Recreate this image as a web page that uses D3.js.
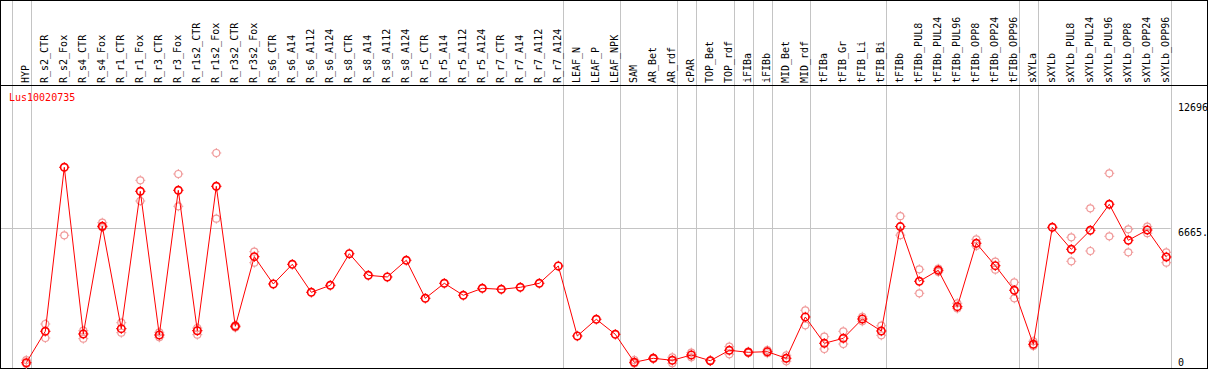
<!DOCTYPE html>
<html>
<head>
<meta charset="utf-8">
<script src="https://cdn.jsdelivr.net/npm/d3@7"></script>
<style>
  body { margin: 0; background: #fff; }
  svg text { font-family: "DejaVu Sans Mono", monospace; font-size: 10px; }
</style>
</head>
<body>
<svg id="chart" width="1209" height="370"></svg>
<script>
// sample columns, left to right
const columns = ["HYP", "R_s2_CTR", "R_s2_Fox", "R_s4_CTR", "R_s4_Fox", "R_r1_CTR", "R_r1_Fox",
  "R_r3_CTR", "R_r3_Fox", "R_r1s2_CTR", "R_r1s2_Fox", "R_r3s2_CTR", "R_r3s2_Fox", "R_s6_CTR",
  "R_s6_A14", "R_s6_A112", "R_s6_A124", "R_s8_CTR", "R_s8_A14", "R_s8_A112", "R_s8_A124",
  "R_r5_CTR", "R_r5_A14", "R_r5_A112", "R_r5_A124", "R_r7_CTR", "R_r7_A14", "R_r7_A112",
  "R_r7_A124", "LEAF_N", "LEAF_P", "LEAF_NPK", "SAM", "AR_Bet", "AR_rdf", "cPAR", "TOP_Bet",
  "TOP_rdf", "iFIBa", "iFIBb", "MID_Bet", "MID_rdf", "tFIBa", "tFIB_Gr", "tFIB_Li", "tFIB_Bi",
  "tFIBb", "tFIBb_PUL8", "tFIBb_PUL24", "tFIBb_PUL96", "tFIBb_OPP8", "tFIBb_OPP24", "tFIBb_OPP96",
  "sXYLa", "sXYLb", "sXYLb_PUL8", "sXYLb_PUL24", "sXYLb_PUL96", "sXYLb_OPP8", "sXYLb_OPP24",
  "sXYLb_OPP96"];

// mean expression per column (the red line)
const means = [183, 1698, 9609, 1568, 6763, 1824, 8452, 1519, 8500, 1727, 8693, 1939, 5297, 3980,
  4930, 3579, 3917, 5441, 4399, 4318, 5123, 3290, 4014, 3435, 3772, 3724, 3821, 4014, 4849,
  1471, 2277, 1553, 203, 396, 299, 555, 280, 781, 685, 714, 396, 2388, 1119, 1360, 2291, 1713,
  6750, 4110, 4641, 2885, 5943, 4863, 3676, 1071, 6715, 5654, 6570, 7825, 6088, 6585, 5282];

// replicate values per column (pink circles)
const replicates = [
  [310, 120], [2050, 1375], [6329], [1727, 1341], [6937, 6715], [2113, 1631], [8982, 7984],
  [1650, 1409], [9286, 7728], [1857, 1534], [10299, 7130], [1990, 1880], [5538, 5007],
  [], [], [], [], [], [], [], [], [], [], [], [], [], [], [], [], [], [], [],
  [314, 150], [420, 370], [444, 154], [666, 444], [300, 260], [955, 588], [720, 650], [790, 640],
  [540, 251], [2711, 1987], [1438, 844], [1698, 1085], [2400, 2180], [1968, 1505],
  [7253, 6336], [4689, 3531], [4718, 4560], [3049, 2800], [6136, 5813], [5055, 4670], [4062, 3290],
  [1216, 989], [], [6233, 5075], [7632, 5572], [9320, 6281], [6618, 5509], [6744, 6430], [5509, 5007]
];

// last column of each tissue group (separator drawn after it)
const groupEnds = ["HYP", "R_r7_A124", "LEAF_NPK", "AR_rdf", "cPAR", "TOP_rdf", "iFIBa", "iFIBb",
  "MID_rdf", "tFIB_Bi", "tFIBb_OPP96", "sXYLa", "sXYLb_OPP96"];

const yTicks = [0, 6665, 12696];
const yTickLabels = ["0", "6665.", "12696"];
const geneName = "Lus10020735";

const W = 1209, H = 370;
const step = 19;
const svg = d3.select("#chart");

const x = d3.scalePoint()
  .domain(columns)
  .range([26.3, 26.3 + step * (columns.length - 1)]);

const y = d3.scaleLinear()
  .domain([0, 12696])
  .range([366.5, 103.3]);

const gridRight = x(columns[columns.length - 1]) + 4.4;

// separators
const sepX = [x(columns[0]) - step + 4.4].concat(groupEnds.map(c => x(c) + 4.4));
svg.selectAll("line.sep")
  .data(sepX)
  .enter().append("line")
  .attr("class", "sep")
  .attr("x1", d => Math.round(d) + 0.5).attr("x2", d => Math.round(d) + 0.5)
  .attr("y1", 0).attr("y2", 368)
  .attr("stroke", "#c4c4c4");

// mid gridline
svg.append("line")
  .attr("x1", 1).attr("x2", gridRight)
  .attr("y1", Math.round(y(6665)) + 0.5).attr("y2", Math.round(y(6665)) + 0.5)
  .attr("stroke", "#c4c4c4");

// frame
svg.append("rect")
  .attr("x", 0.5).attr("y", 0.5)
  .attr("width", W - 2).attr("height", 368)
  .attr("fill", "none").attr("stroke", "#000");
svg.append("line")
  .attr("x1", 0).attr("x2", W - 1)
  .attr("y1", 85.5).attr("y2", 85.5)
  .attr("stroke", "#000");

// column labels
svg.selectAll("text.col")
  .data(columns)
  .enter().append("text")
  .attr("class", "col")
  .attr("transform", d => "translate(" + (x(d) + 2.7) + ",83) rotate(-90)")
  .attr("fill", "#000")
  .text(d => d);

// right axis labels
svg.selectAll("text.tick")
  .data(yTicks)
  .enter().append("text")
  .attr("class", "tick")
  .attr("x", 1178)
  .attr("y", (d, i) => i === 0 ? 366 : y(d) + 7.8)
  .attr("fill", "#000")
  .text((d, i) => yTickLabels[i]);

// gene name
svg.append("text")
  .attr("x", 9).attr("y", 100.5)
  .attr("fill", "#ff0000")
  .text(geneName);

// circle with small compass ticks, like the original plot markers
function marker(sel, r, color, sw) {
  sel.append("circle")
    .attr("r", r)
    .attr("fill", "none")
    .attr("stroke", color)
    .attr("stroke-width", sw);
  sel.append("path")
    .attr("d", "M0," + (-r - 1.5) + "V" + (-r) + "M0," + r + "V" + (r + 1.5) +
      "M" + (-r - 1.5) + ",0H" + (-r) + "M" + r + ",0H" + (r + 1.5))
    .attr("stroke", color)
    .attr("stroke-width", 1);
}

// replicates
const repPts = [];
replicates.forEach((r, i) => r.forEach(v => repPts.push({ c: columns[i], v: v })));
svg.selectAll("g.rep")
  .data(repPts)
  .enter().append("g")
  .attr("class", "rep")
  .attr("transform", d => "translate(" + x(d.c) + "," + y(d.v) + ")")
  .call(marker, 3.5, "#f09a9a", 1.2);

// mean line
const pts = columns.map((c, i) => ({ c: c, v: means[i] }));
svg.append("path")
  .datum(pts)
  .attr("d", d3.line().x(d => x(d.c)).y(d => y(d.v)))
  .attr("fill", "none")
  .attr("stroke", "#ff0000")
  .attr("stroke-width", 1);

svg.selectAll("g.mean")
  .data(pts)
  .enter().append("g")
  .attr("class", "mean")
  .attr("transform", d => "translate(" + x(d.c) + "," + y(d.v) + ")")
  .call(marker, 3.7, "#ff0000", 1.6);
</script>
</body>
</html>
